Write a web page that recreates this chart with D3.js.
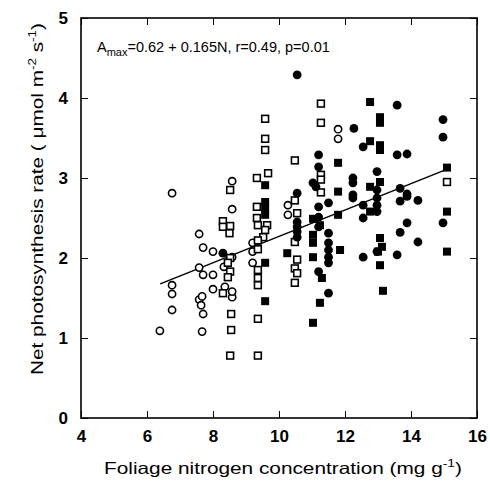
<!DOCTYPE html>
<html><head><meta charset="utf-8">
<script src="https://cdn.jsdelivr.net/npm/d3@7/dist/d3.min.js"></script>
<style>body{margin:0;background:#fff;} svg{display:block;}</style>
</head><body>
<svg id="c" width="490" height="483"></svg>
<script>
const xTicks = [4, 6, 8, 10, 12, 14, 16];
const yTicks = [0, 1, 2, 3, 4, 5];
const xTitle = "Foliage nitrogen concentration (mg g";
const yTitle = "Net photosynthesis rate ( \u03bcmol m";
const regression = {intercept: 0.62, slope: 0.165, from: 6.4, to: 15.1};

// open circles
const openCircles = [
 [6.39,1.09],[6.76,2.81],[6.76,1.66],[6.76,1.55],[6.76,1.35],
 [7.58,2.30],[7.70,2.13],[8.00,2.08],[7.58,1.88],[7.70,1.79],[8.00,1.79],
 [7.58,1.48],[7.67,1.52],[7.64,1.41],[7.70,1.30],[7.67,1.08],
 [8.00,1.61],[8.33,1.89],[8.36,1.64],[8.58,2.96],[8.58,2.61],[8.58,2.01],[8.58,1.51],[8.58,1.58],
 [9.20,2.19],[9.20,2.08],[9.20,1.94],[10.27,2.66],[10.27,2.54],[11.79,3.61],[11.79,3.49]
];
// open squares
const openSquares = [
 [8.30,2.46],[8.30,2.39],[8.52,2.40],[8.50,2.31],[8.52,2.85],[8.52,2.00],[8.45,1.94],[8.52,1.83],
 [8.45,1.76],[8.30,1.56],[8.55,1.30],[8.55,1.10],[8.52,0.78],
 [9.58,3.74],[9.58,3.49],[9.58,3.35],[9.67,3.06],[9.33,3.00],[9.33,2.64],[9.33,2.50],[9.36,2.41],
 [9.64,2.41],[9.58,2.35],[9.52,2.26],[9.36,2.22],[9.36,2.11],[9.36,1.85],[9.36,1.75],[9.36,1.66],
 [9.36,1.24],[9.36,0.78],
 [10.48,3.22],[10.48,2.72],[10.55,2.56],[10.48,2.20],[10.55,1.98],[10.48,1.87],[10.55,1.81],[10.48,1.69],
 [11.27,3.93],[11.27,3.69],[11.27,3.04],[11.27,2.98],[11.27,2.82],
 [15.09,2.95]
];
// filled circles
const filledCircles = [
 [8.30,2.06],[10.55,4.29],[10.55,2.81],[10.55,2.45],[10.55,2.39],[10.55,2.33],[10.55,2.26],
 [11.20,3.29],[11.20,3.14],[11.03,2.94],[11.12,2.89],[11.20,2.64],[11.20,2.51],[11.20,2.39],[11.20,1.83],
 [11.50,2.69],[11.50,2.31],[11.50,2.19],[11.50,2.10],[11.50,2.01],[11.50,1.94],[11.50,1.56],
 [12.27,3.62],[12.24,3.00],[12.24,2.94],[12.24,2.79],[12.24,2.75],
 [12.55,3.39],[12.55,2.66],[12.55,2.50],[12.55,2.01],
 [12.97,3.08],[12.97,2.85],[12.97,2.75],[12.97,2.66],[12.97,2.58],[12.97,2.08],
 [13.58,3.91],[13.58,3.29],[13.67,2.87],[13.67,2.71],[13.67,2.32],[13.58,2.04],
 [13.88,3.30],[13.88,2.80],[13.88,2.77],[13.88,2.44],
 [14.21,2.72],[14.21,2.20],
 [14.97,3.73],[14.97,3.51],[14.97,2.44]
];
// filled squares
const filledSquares = [
 [9.58,2.91],[9.58,2.70],[9.58,2.62],[9.58,2.54],[9.58,1.94],[9.58,1.46],
 [10.25,2.06],
 [11.03,2.49],[11.03,2.29],[11.03,2.19],[11.03,2.01],[11.03,1.19],
 [11.24,2.41],[11.30,1.75],[11.24,1.44],
 [11.79,3.19],[11.79,2.83],[11.79,2.54],[11.85,2.10],
 [12.76,3.95],[12.76,3.46],[12.76,2.89],[12.76,2.58],
 [13.06,3.76],[13.06,3.69],[13.06,3.41],[13.06,3.35],[13.06,2.95],[13.06,2.25],[13.12,2.14],
 [13.00,2.08],[13.06,1.91],[13.15,1.59],
 [15.09,3.13],[15.09,2.58],[15.09,2.08]
];

const svg = d3.select("#c");
const L = 81, R = 477, T = 18, B = 418;
const x = d3.scaleLinear().domain([4, 16]).range([L, R]);
const y = d3.scaleLinear().domain([0, 5]).range([B, T]);
const font = "Arial, 'Liberation Sans', sans-serif";

// inward ticks on all sides
const tk = 7;
svg.append("g").attr("transform", `translate(0,${B})`)
  .call(d3.axisBottom(x).tickValues(xTicks).tickSize(-tk).tickPadding(12).tickFormat(d3.format("d")))
  .call(g => { g.select(".domain").remove(); g.selectAll("text").attr("font-size", 17).attr("font-weight", "bold").attr("font-family", font).attr("fill", "#000"); g.selectAll("line").attr("stroke-width", 1); });
svg.append("g").attr("transform", `translate(0,${T})`)
  .call(d3.axisTop(x).tickValues(xTicks).tickSize(-tk).tickFormat(""))
  .call(g => { g.select(".domain").remove(); g.selectAll("line").attr("stroke-width", 1); });
svg.append("g").attr("transform", `translate(${L},0)`)
  .call(d3.axisLeft(y).tickValues(yTicks).tickSize(-tk).tickPadding(13).tickFormat(d3.format("d")))
  .call(g => { g.select(".domain").remove(); g.selectAll("text").attr("font-size", 17).attr("font-weight", "bold").attr("font-family", font).attr("fill", "#000"); g.selectAll("line").attr("stroke-width", 1); });
svg.append("g").attr("transform", `translate(${R},0)`)
  .call(d3.axisRight(y).tickValues(yTicks).tickSize(-tk).tickFormat(""))
  .call(g => { g.select(".domain").remove(); g.selectAll("line").attr("stroke-width", 1); });

// frame
svg.append("rect").attr("x", L).attr("y", T).attr("width", R - L).attr("height", B - T)
  .attr("fill", "none").attr("stroke", "#000").attr("stroke-width", 1.6);

// regression line
svg.append("line")
  .attr("x1", x(regression.from)).attr("y1", y(regression.intercept + regression.slope * regression.from))
  .attr("x2", x(regression.to)).attr("y2", y(regression.intercept + regression.slope * regression.to))
  .attr("stroke", "#000").attr("stroke-width", 1.5);

// points
const pts = svg.append("g");
pts.selectAll(".oc").data(openCircles).join("circle")
  .attr("cx", d => x(d[0])).attr("cy", d => y(d[1])).attr("r", 3.6)
  .attr("fill", "#fff").attr("stroke", "#000").attr("stroke-width", 1.6);
pts.selectAll(".os").data(openSquares).join("rect")
  .attr("x", d => x(d[0]) - 3.4).attr("y", d => y(d[1]) - 3.4).attr("width", 6.8).attr("height", 6.8)
  .attr("fill", "#fff").attr("stroke", "#000").attr("stroke-width", 1.6);
pts.selectAll(".fc").data(filledCircles).join("circle")
  .attr("cx", d => x(d[0])).attr("cy", d => y(d[1])).attr("r", 4.4)
  .attr("fill", "#000");
pts.selectAll(".fs").data(filledSquares).join("rect")
  .attr("x", d => x(d[0]) - 4).attr("y", d => y(d[1]) - 4).attr("width", 8).attr("height", 8)
  .attr("fill", "#000");

// annotation
const ann = svg.append("text").attr("x", 97).attr("y", 52).attr("font-family", font).attr("font-size", 14.5).attr("fill", "#000");
ann.append("tspan").text("A");
ann.append("tspan").attr("font-size", 11).attr("dy", 4).text("max");
ann.append("tspan").attr("dy", -4).text("=0.62 + 0.165N, r=0.49, p=0.01");

// x title
const xt = svg.append("text").attr("x", 104).attr("y", 474)
  .attr("font-family", font).attr("font-size", 16.5).attr("fill", "#000")
  .attr("textLength", 358).attr("lengthAdjust", "spacingAndGlyphs");
xt.append("tspan").text(xTitle);
xt.append("tspan").attr("font-size", 11).attr("dy", -7).text("-1");
xt.append("tspan").attr("dy", 7).text(")");

// y title
const yt = svg.append("text").attr("transform", `translate(43,375) rotate(-90)`)
  .attr("font-family", font).attr("font-size", 17).attr("fill", "#000")
  .attr("textLength", 352).attr("lengthAdjust", "spacingAndGlyphs");
yt.append("tspan").text(yTitle);
yt.append("tspan").attr("font-size", 11).attr("dy", -7).text("-2");
yt.append("tspan").attr("dy", 7).text(" s");
yt.append("tspan").attr("font-size", 11).attr("dy", -7).text("-1");
yt.append("tspan").attr("dy", 7).text(")");
</script>
</body></html>
